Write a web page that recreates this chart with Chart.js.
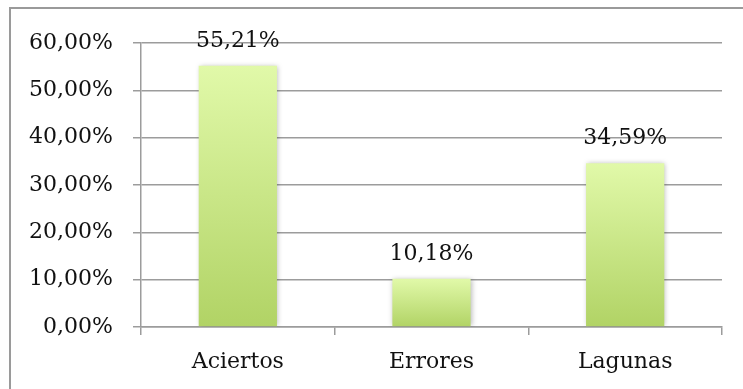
<!DOCTYPE html>
<html>
<head>
<meta charset="utf-8">
<script src="https://cdn.jsdelivr.net/npm/chart.js@4.4.1/dist/chart.umd.min.js"></script>
<style>
    html, body { margin: 0; padding: 0; background: #fff; }
    #chart-box { width: 743px; height: 389px; }
</style>
</head>
<body>
<div id="chart-box"><canvas id="myChart" width="743" height="389"></canvas></div>
<script>
// ============================================================
// Aciertos / Errores / Lagunas — porcentaje de respuestas
// ============================================================

const categories = ['Aciertos', 'Errores', 'Lagunas'];
const values     = [55.21, 10.18, 34.59];
const tickValues = [0, 10, 20, 30, 40, 50, 60];

const FONT      = '"DejaVu Serif", "Liberation Serif", serif';
const GRID      = '#9c9c9c';
const TEXT      = '#111111';

function pct(v) {
    return v.toFixed(2).replace('.', ',') + '%';
}

// frame around the whole chart (only left + top fall inside the canvas)
const framePlugin = {
    id: 'frame',
    beforeDraw(chart) {
        const ctx = chart.ctx;
        ctx.save();
        ctx.fillStyle = '#fff';
        ctx.fillRect(0, 0, chart.width, chart.height);
        ctx.strokeStyle = '#9a9a9a';
        ctx.lineWidth = 2;
        ctx.strokeRect(10, 8, 1000, 1000);
        ctx.restore();
    }
};

// soft shadow behind the bars, then value labels on top
const barExtras = {
    id: 'barExtras',
    beforeDatasetsDraw(chart) {
        const ctx = chart.ctx;
        ctx.save();
        ctx.shadowColor   = 'rgba(0,0,0,0.28)';
        ctx.shadowBlur    = 5;
        ctx.shadowOffsetX = 1;
        ctx.shadowOffsetY = 0;
    },
    afterDatasetsDraw(chart) {
        const ctx = chart.ctx;
        ctx.restore();

        ctx.save();
        ctx.font = '22px ' + FONT;
        ctx.fillStyle = TEXT;
        ctx.textAlign = 'center';
        ctx.textBaseline = 'alphabetic';
        chart.getDatasetMeta(0).data.forEach((bar, i) => {
            ctx.fillText(pct(values[i]), bar.x, bar.y - 19);
        });
        ctx.restore();
    }
};

function barGradient(context) {
    const chart = context.chart;
    const y = chart.scales && chart.scales.y;
    if (!chart.chartArea || !y || context.raw === undefined) return '#c8e688';
    const top    = y.getPixelForValue(context.raw);
    const bottom = y.getPixelForValue(0);
    const g = chart.ctx.createLinearGradient(0, top, 0, bottom);
    g.addColorStop(0, '#e1f9a9');
    g.addColorStop(1, '#b1d365');
    return g;
}

new Chart(document.getElementById('myChart'), {
    type: 'bar',
    data: {
        labels: categories,
        datasets: [{
            data: values,
            backgroundColor: barGradient,
            borderWidth: 0,
            categoryPercentage: 1,
            barPercentage: 0.404
        }]
    },
    options: {
        responsive: false,
        animation: false,
        devicePixelRatio: 1,
        layout: { padding: { top: 43, right: 21, left: 0, bottom: 0 } },
        plugins: {
            legend:  { display: false },
            tooltip: { enabled: false }
        },
        scales: {
            x: {
                offset: true,
                grid: {
                    offset: true,
                    drawOnChartArea: false,
                    drawTicks: true,
                    tickLength: 8,
                    color: GRID,
                    lineWidth: 1.5
                },
                border: { color: GRID, width: 1.5 },
                ticks: {
                    color: TEXT,
                    padding: 14,
                    font: { family: FONT, size: 22 }
                },
                afterFit(scale) { scale.height = 62; }
            },
            y: {
                min: tickValues[0],
                max: tickValues[tickValues.length - 1],
                afterBuildTicks(scale) {
                    scale.ticks = tickValues.map(v => ({ value: v }));
                },
                grid: {
                    color: GRID,
                    lineWidth: 1.5,
                    tickLength: 8
                },
                border: { color: GRID, width: 1.5 },
                ticks: {
                    color: TEXT,
                    padding: 20,
                    font: { family: FONT, size: 22 },
                    callback: v => pct(v)
                },
                afterFit(scale) { scale.width = 141; }
            }
        }
    },
    plugins: [framePlugin, barExtras]
});
</script>
</body>
</html>
